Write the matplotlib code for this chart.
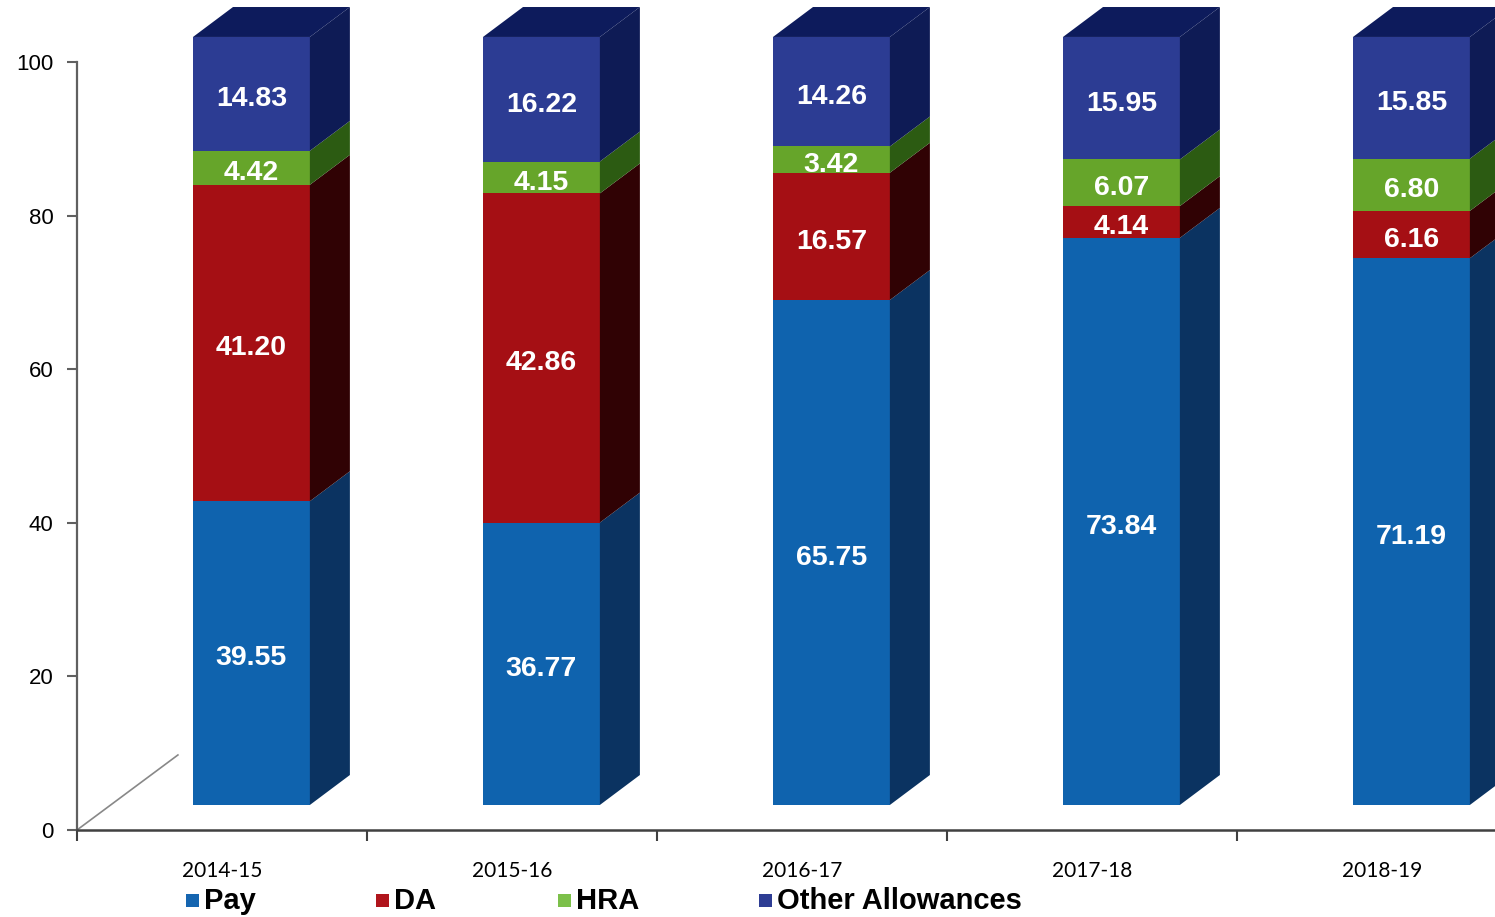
import matplotlib.pyplot as plt
from matplotlib.patches import Polygon, Rectangle

# Data
years = ["2014-15", "2015-16", "2016-17", "2017-18", "2018-19"]
series = ["Pay", "DA", "HRA", "Other Allowances"]
pay = [39.55, 36.77, 65.75, 73.84, 71.19]
da = [41.20, 42.86, 16.57, 4.14, 6.16]
hra = [4.42, 4.15, 3.42, 6.07, 6.80]
other = [14.83, 16.22, 14.26, 15.95, 15.85]

front_colors = ["#0f63ae", "#a50f14", "#66a52a", "#2c3c93"]
side_colors = ["#0b3361", "#300204", "#2c5b12", "#0e1b55"]
top_color = "#0d1b5c"
legend_colors = ["#1565b0", "#b0151c", "#7cc04a", "#2e3d94"]

# 3D look (in data units)
x_left, x_right = -0.10, 0.303
base = 3.26
dx, dy = 0.138, 3.9

fig = plt.figure(figsize=(14.95, 9.17), dpi=100)
ax = fig.add_axes([77 / 1495, 87 / 917, 1418 / 1495, 830 / 917])
ax.set_xlim(-0.5, -0.5 + 1418 / 290)
ax.set_ylim(0, 830 / 7.68)

# floor edge
ax.plot([-0.5, -0.5 + 0.348], [0, 9.77], color="#888888", lw=1.2, zorder=1)

for i in range(len(years)):
    xl, xr = i + x_left, i + x_right
    bottom = base
    for vals, fc, sc in zip([pay, da, hra, other], front_colors, side_colors):
        v = vals[i]
        top = bottom + v
        ax.add_patch(Rectangle((xl, bottom), xr - xl, v, facecolor=fc,
                               edgecolor="none", zorder=3))
        ax.add_patch(Polygon([(xr, bottom), (xr + dx, bottom + dy),
                              (xr + dx, top + dy), (xr, top)],
                             closed=True, facecolor=sc, edgecolor="none", zorder=3))
        ax.text((xl + xr) / 2, bottom + v / 2 - 0.7, f"{v:.2f}", color="white",
                ha="center", va="center", fontsize=20.5, fontweight="bold",
                family="Liberation Sans", zorder=5)
        bottom = top
    ax.add_patch(Polygon([(xl, bottom), (xr, bottom), (xr + dx, bottom + dy),
                          (xl + dx, bottom + dy)],
                         closed=True, facecolor=top_color, edgecolor="none", zorder=3))

# axes styling
for s in ["top", "right"]:
    ax.spines[s].set_visible(False)
ax.spines["left"].set_bounds(0, 100)
ax.spines["left"].set_color("#606060")
ax.spines["bottom"].set_color("#404040")
ax.spines["left"].set_linewidth(1.6)
ax.spines["bottom"].set_linewidth(1.8)

ax.set_yticks(range(0, 101, 20))
ax.tick_params(axis="y", length=7, width=1.5, color="#606060", pad=10,
               labelsize=16)
for lab in ax.get_yticklabels():
    lab.set_family("Liberation Sans")

ax.set_xticks([-0.5 + k for k in range(5)])
ax.set_xticklabels([])
ax.tick_params(axis="x", which="major", length=8, width=1.5, color="#404040")
ax.set_xticks(range(len(years)), minor=True)
ax.set_xticklabels(years, minor=True, fontsize=15, family="Lato")
ax.tick_params(axis="x", which="minor", length=0, pad=22)

# legend
leg_x = [186, 376, 558, 759]
for name, col, lx in zip(series, legend_colors, leg_x):
    fig.patches.append(Rectangle((lx / 1495, (917 - 907) / 917), 13 / 1495,
                                 13 / 917, transform=fig.transFigure,
                                 facecolor=col, edgecolor="none"))
    fig.text((lx + 18) / 1495, (917 - 901) / 917, name, fontsize=21,
             fontweight="bold", family="Liberation Sans", va="center",
             ha="left")

fig.savefig("out.png", dpi=100)
